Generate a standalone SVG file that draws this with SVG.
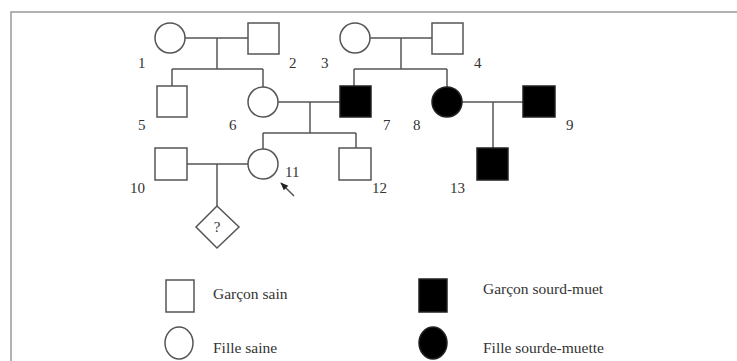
<svg xmlns="http://www.w3.org/2000/svg" width="737" height="361" viewBox="0 0 737 361">
<defs>
<style>
.h{fill:#fff;stroke:#555;stroke-width:1.5}
.a{fill:#000;stroke:#222;stroke-width:1.5}
.ln{stroke:#555;stroke-width:1.5;fill:none}
.lb{font-family:"Liberation Serif","Times New Roman",serif;font-size:15px;fill:#333}
.lg{font-family:"Liberation Serif","Times New Roman",serif;font-size:15.5px;fill:#333}
</style>
<marker id="ah" viewBox="0 0 10 10" refX="9" refY="5" markerUnits="userSpaceOnUse" markerWidth="8" markerHeight="8" orient="auto"><path d="M0,1 L10,5 L0,9 z" fill="#222"/></marker>
</defs>
<rect width="737" height="361" fill="#fff"/>
<path d="M11,361 V12 H737" fill="none" stroke="#999" stroke-width="1.5"/>
<g id="connectors" class="ln">
<path d="M185,38 H248 M217,38 V69 M172,69 H263 M172,69 V86 M263,69 V87"/>
<path d="M370,38 H432 M401,38 V69 M354,69 H447 M354,69 V86 M447,69 V87"/>
<path d="M278,102 H340 M310,102 V133 M263,133 H356 M263,133 V149 M356,133 V148"/>
<path d="M462,102 H523 M493,102 V148"/>
<path d="M187,164 H248 M217,164 V206"/>
<line x1="294" y1="196" x2="281" y2="183" marker-end="url(#ah)"/>
</g>
<g id="n1"><circle class="h" cx="170" cy="38" r="15"/><text class="lb" x="138" y="68">1</text></g>
<g id="n2"><rect class="h" x="248" y="23" width="31" height="31"/><text class="lb" x="289" y="68">2</text></g>
<g id="n3"><circle class="h" cx="355" cy="38" r="15"/><text class="lb" x="321" y="68">3</text></g>
<g id="n4"><rect class="h" x="432" y="23" width="31" height="31"/><text class="lb" x="474" y="68">4</text></g>
<g id="n5"><rect class="h" x="157" y="86" width="30" height="31"/><text class="lb" x="138" y="130">5</text></g>
<g id="n6"><circle class="h" cx="263" cy="102" r="15"/><text class="lb" x="229" y="130">6</text></g>
<g id="n7"><rect class="a" x="340" y="86" width="31" height="31"/><text class="lb" x="383" y="130">7</text></g>
<g id="n8"><circle class="a" cx="447" cy="102" r="15"/><text class="lb" x="413" y="130">8</text></g>
<g id="n9"><rect class="a" x="523" y="86" width="32" height="31"/><text class="lb" x="566" y="130">9</text></g>
<g id="n10"><rect class="h" x="155" y="148" width="32" height="32"/><text class="lb" x="130" y="193">10</text></g>
<g id="n11"><circle class="h" cx="263" cy="164" r="15"/><text class="lb" x="285" y="177">11</text></g>
<g id="n12"><rect class="h" x="339" y="148" width="32" height="32"/><text class="lb" x="372" y="193">12</text></g>
<g id="n13"><rect class="a" x="477" y="148" width="31" height="32"/><text class="lb" x="450" y="193">13</text></g>
<g id="n14"><path class="h" d="M217,206 L239,227 L217,248 L196,227 Z"/><text class="lb" x="217" y="232" text-anchor="middle" font-size="12">?</text></g>
<g id="legend">
<rect class="h" x="166" y="280" width="28" height="32"/>
<text class="lg" x="213" y="299">Garçon sain</text>
<ellipse class="h" cx="179" cy="343" rx="14" ry="16"/>
<text class="lg" x="213" y="353">Fille saine</text>
<rect class="a" x="419" y="279" width="28" height="33"/>
<text class="lg" x="483" y="294">Garçon sourd-muet</text>
<ellipse class="a" cx="433" cy="343" rx="14" ry="16"/>
<text class="lg" x="483" y="353">Fille sourde-muette</text>
</g>
</svg>
